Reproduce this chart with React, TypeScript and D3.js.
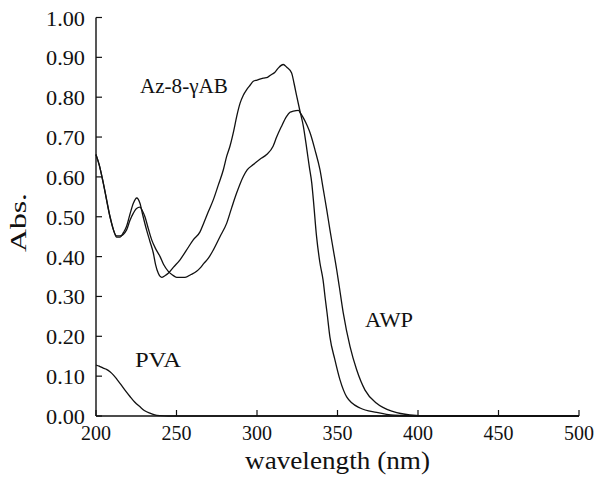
import React from "react";
import * as d3 from "d3";

const xTicks = [200, 250, 300, 350, 400, 450, 500];
const yTicks = [0, 0.1, 0.2, 0.3, 0.4, 0.5, 0.6, 0.7, 0.8, 0.9, 1.0];

const azWl = [200, 202, 204.5, 206.5, 208.7, 211, 212.8, 215, 217, 219, 221, 223.2, 225.3, 227.3, 229, 231.4, 233.5, 235.6, 237, 238.7, 240.8, 242.8, 244.9, 248, 252.2, 256, 260.4, 264.6, 267, 269.8, 272.9, 276, 279.1, 281.2, 283.2, 285.5, 287.4, 289.5, 291.5, 293.6, 295.7, 297.7, 300, 303.9, 306.5, 309, 311, 313.2, 316.3, 318.5, 321.5, 323, 324.7, 326.7, 328.8, 331, 332.5, 334, 335, 337, 339.1, 341, 342.5, 343.5, 345.3, 348.4, 351.6, 355.7, 364, 374.3, 385, 400, 500];
const azAbs = [0.656, 0.63, 0.585, 0.545, 0.5, 0.465, 0.449, 0.449, 0.46, 0.476, 0.505, 0.534, 0.547, 0.534, 0.505, 0.467, 0.438, 0.409, 0.38, 0.358, 0.348, 0.352, 0.358, 0.373, 0.392, 0.415, 0.442, 0.462, 0.485, 0.513, 0.543, 0.58, 0.618, 0.652, 0.677, 0.715, 0.752, 0.785, 0.805, 0.819, 0.83, 0.84, 0.843, 0.848, 0.85, 0.857, 0.862, 0.873, 0.882, 0.875, 0.861, 0.835, 0.802, 0.765, 0.727, 0.668, 0.625, 0.585, 0.543, 0.45, 0.384, 0.342, 0.291, 0.259, 0.198, 0.141, 0.09, 0.048, 0.02, 0.009, 0.002, 0, 0];

const awpWl = [200, 202, 204.5, 208.7, 212.8, 215, 219, 221, 223.2, 225, 227.3, 228.8, 230.4, 232.5, 234.6, 237, 239.8, 242, 244.9, 247.5, 250.1, 255.3, 259, 262.5, 264.6, 267, 269.8, 272.9, 277, 281.2, 284.3, 287.4, 291.5, 294, 297.7, 302, 306, 310, 312.2, 315, 318.4, 320.5, 322.6, 325.7, 327, 328.8, 331, 333, 336, 339.1, 341.2, 343.3, 345.3, 347.4, 349.5, 351.1, 353.6, 357.8, 361.9, 367.1, 374.3, 384.7, 395, 410, 500];
const awpAbs = [0.656, 0.63, 0.585, 0.5, 0.452, 0.452, 0.467, 0.49, 0.509, 0.52, 0.524, 0.515, 0.5, 0.47, 0.442, 0.42, 0.4, 0.38, 0.363, 0.354, 0.348, 0.348, 0.355, 0.363, 0.371, 0.383, 0.396, 0.417, 0.45, 0.484, 0.523, 0.56, 0.601, 0.618, 0.631, 0.645, 0.656, 0.677, 0.7, 0.725, 0.752, 0.762, 0.765, 0.767, 0.76, 0.748, 0.73, 0.71, 0.668, 0.618, 0.568, 0.518, 0.467, 0.417, 0.367, 0.325, 0.258, 0.174, 0.116, 0.065, 0.032, 0.011, 0.003, 0, 0];

const pvaWl = [200, 202, 204.5, 206.5, 208.7, 211, 213, 214.9, 218, 221.1, 224, 227.3, 230, 233.5, 236.5, 240, 245, 500];
const pvaAbs = [0.128, 0.125, 0.12, 0.117, 0.111, 0.102, 0.092, 0.082, 0.065, 0.049, 0.035, 0.023, 0.014, 0.007, 0.003, 0.001, 0, 0];

const labels = [
  { text: "Az-8-γAB", wl: 227.3, abs: 0.81, len: 88 },
  { text: "AWP", wl: 367.1, abs: 0.224, len: 48 },
  { text: "PVA", wl: 224.2, abs: 0.124, len: 46 },
];

const FONT = "'Liberation Serif', 'Times New Roman', Times, serif";

export default function App() {
  const x = d3.scaleLinear().domain([200, 500]).range([96, 579]);
  const y = d3.scaleLinear().domain([0, 1]).range([416, 17.5]);
  const line = d3
    .line<[number, number]>()
    .x((d) => x(d[0]))
    .y((d) => y(d[1]))
    .curve(d3.curveMonotoneX);
  const series = [
    d3.zip(azWl, azAbs) as [number, number][],
    d3.zip(awpWl, awpAbs) as [number, number][],
    d3.zip(pvaWl, pvaAbs) as [number, number][],
  ];
  const tickLen = 6;
  return (
    <svg
      width={597}
      height={483}
      style={{ position: "absolute", left: 0, top: 0, background: "#fff" }}
      fontFamily={FONT}
    >
      {series.map((s, i) => (
        <path key={i} d={line(s) || ""} fill="none" stroke="#111" strokeWidth={1.3} />
      ))}
      <line x1={x(200)} x2={x(200)} y1={y(1)} y2={y(0)} stroke="#111" strokeWidth={1.4} />
      <line x1={x(200)} x2={x(500)} y1={y(0)} y2={y(0)} stroke="#111" strokeWidth={1.4} />
      {yTicks.map((t) => (
        <g key={"y" + t}>
          <line x1={x(200)} x2={x(200) + tickLen} y1={y(t)} y2={y(t)} stroke="#111" strokeWidth={1.2} />
          <text x={85} y={y(t) + 8} textAnchor="end" fontSize={20} textLength={39} lengthAdjust="spacingAndGlyphs" fill="#111">
            {t.toFixed(2)}
          </text>
        </g>
      ))}
      {xTicks.map((t) => (
        <g key={"x" + t}>
          <line x1={x(t)} x2={x(t)} y1={y(0)} y2={y(0) - tickLen} stroke="#111" strokeWidth={1.2} />
          <text x={x(t)} y={440} textAnchor="middle" fontSize={20} fill="#111">
            {t}
          </text>
        </g>
      ))}
      <text x={337.5} y={469} textAnchor="middle" fontSize={26} textLength={185} lengthAdjust="spacingAndGlyphs" fill="#111">
        wavelength (nm)
      </text>
      <text
        transform="translate(26,222.5) rotate(-90)"
        textAnchor="middle"
        fontSize={24}
        textLength={59}
        lengthAdjust="spacingAndGlyphs"
        fill="#111"
      >
        Abs.
      </text>
      {labels.map((l) => (
        <text key={l.text} x={x(l.wl)} y={y(l.abs)} fontSize={20} textLength={l.len} lengthAdjust="spacingAndGlyphs" fill="#111">
          {l.text}
        </text>
      ))}
    </svg>
  );
}
